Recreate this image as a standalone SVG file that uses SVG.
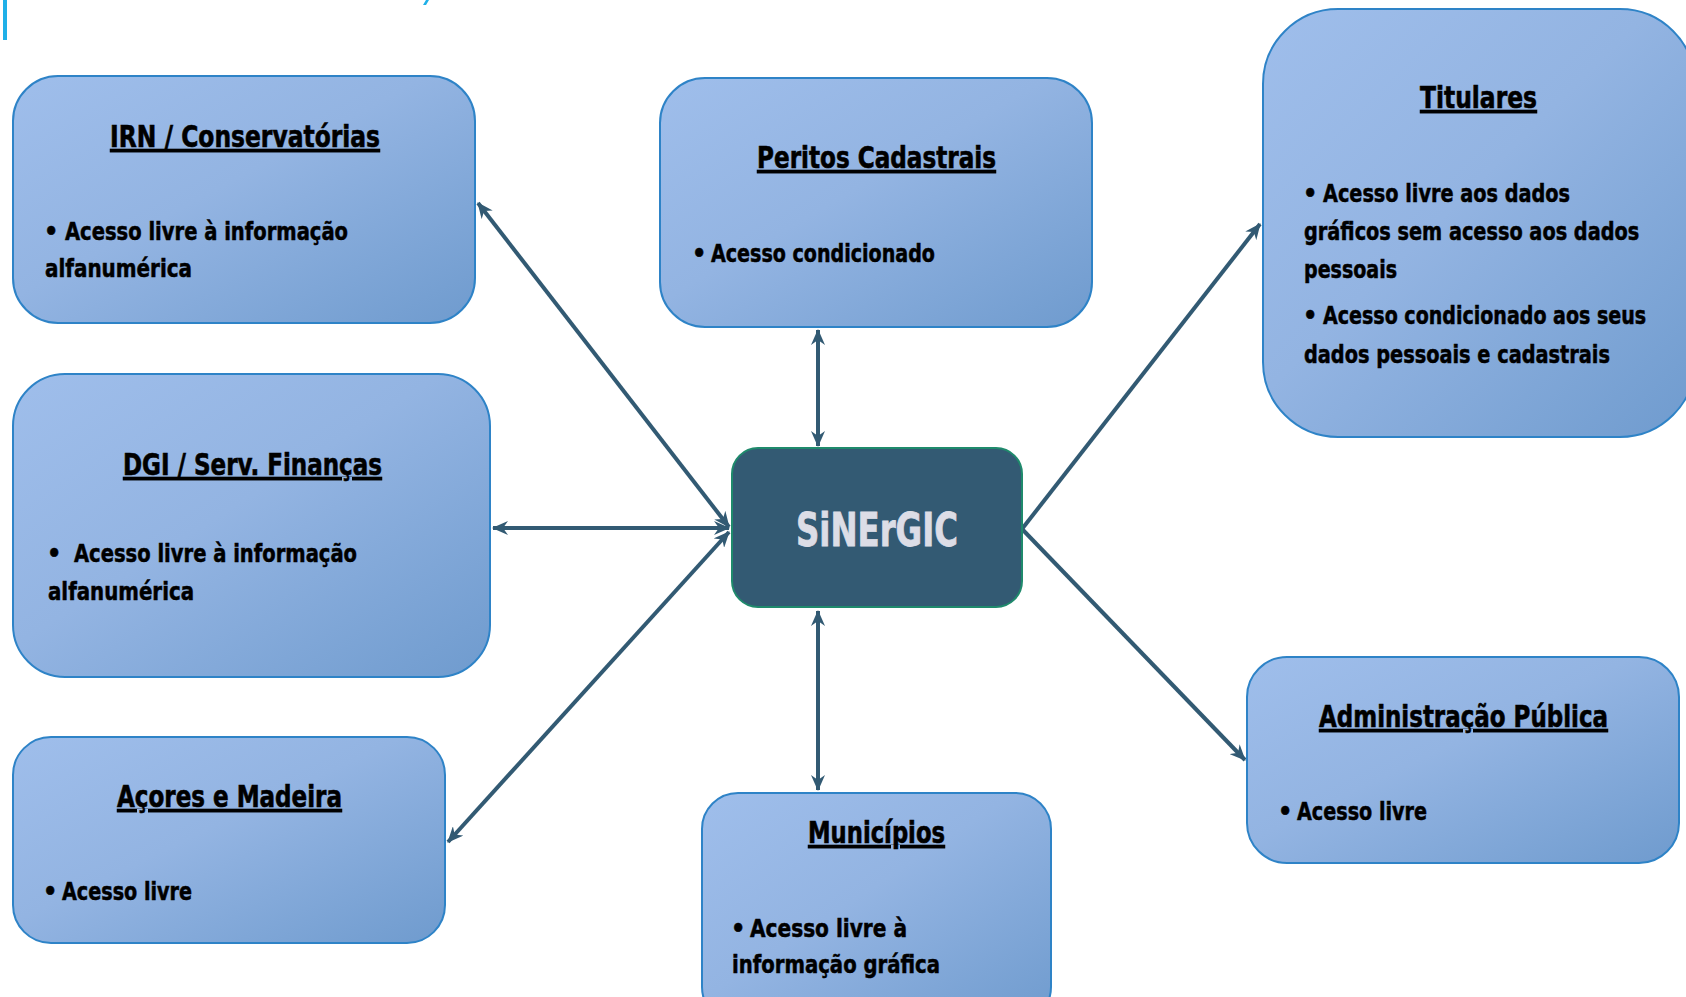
<svg xmlns="http://www.w3.org/2000/svg" width="1686" height="997" viewBox="0 0 1686 997">
<defs>
<linearGradient id="boxg" x1="0" y1="0" x2="1" y2="1">
<stop offset="0" stop-color="#9fbeeb"/>
<stop offset="0.45" stop-color="#93b4e2"/>
<stop offset="1" stop-color="#6f9bce"/>
</linearGradient>
<marker id="ah" viewBox="0 0 16 14" markerWidth="16" markerHeight="14" refX="15" refY="7" orient="auto-start-reverse" markerUnits="userSpaceOnUse">
<path d="M0,0 L16,7 L0,14 L5,7 z" fill="#325a73"/>
</marker>
<style>
.box{fill:url(#boxg);stroke:#2e83c7;stroke-width:2}
.title{font-family:"Liberation Sans Narrow","DejaVu Sans Condensed","Liberation Sans",sans-serif;font-weight:bold;font-size:31px;fill:#000;stroke:#000;stroke-width:0.6;text-decoration:underline}
.txt{font-family:"Liberation Sans Narrow","DejaVu Sans Condensed","Liberation Sans",sans-serif;font-weight:bold;font-size:25px;fill:#000;stroke:#000;stroke-width:0.5}
.conn{stroke:#325a73;stroke-width:4;fill:none}
</style>
</defs>
<rect x="3" y="0" width="4" height="40" fill="#1fb0e8"/>
<polygon points="423,5 426,0 429,0 426,5" fill="#1fb0e8"/>
<g id="connectors">
<line class="conn" x1="478" y1="203" x2="729" y2="527" marker-start="url(#ah)" marker-end="url(#ah)"/>
<line class="conn" x1="493" y1="528" x2="729" y2="528" marker-start="url(#ah)" marker-end="url(#ah)"/>
<line class="conn" x1="448" y1="842" x2="729" y2="532" marker-start="url(#ah)" marker-end="url(#ah)"/>
<line class="conn" x1="818" y1="330" x2="818" y2="446" marker-start="url(#ah)" marker-end="url(#ah)"/>
<line class="conn" x1="818" y1="611" x2="818" y2="790" marker-start="url(#ah)" marker-end="url(#ah)"/>
<line class="conn" x1="1022" y1="529" x2="1260" y2="224" marker-end="url(#ah)"/>
<line class="conn" x1="1022" y1="529" x2="1245" y2="760" marker-end="url(#ah)"/>
</g>
<g id="irn">
<rect class="box" x="13" y="76" width="462" height="247" rx="45"/>
<text class="title" x="110" y="147" textLength="270" lengthAdjust="spacingAndGlyphs">IRN / Conservatórias</text>
<text class="txt" x="44" y="240">•</text>
<text class="txt" x="65" y="240" textLength="283" lengthAdjust="spacingAndGlyphs">Acesso livre à informação</text>
<text class="txt" x="45" y="277" textLength="147" lengthAdjust="spacingAndGlyphs">alfanumérica</text>
</g>
<g id="peritos">
<rect class="box" x="660" y="78" width="432" height="249" rx="45"/>
<text class="title" x="757" y="168" textLength="239" lengthAdjust="spacingAndGlyphs">Peritos Cadastrais</text>
<text class="txt" x="692" y="262">•</text>
<text class="txt" x="711" y="262" textLength="224" lengthAdjust="spacingAndGlyphs">Acesso condicionado</text>
</g>
<g id="titulares">
<rect class="box" x="1263" y="9" width="432" height="428" rx="75"/>
<text class="title" x="1420" y="108" textLength="117" lengthAdjust="spacingAndGlyphs">Titulares</text>
<text class="txt" x="1303" y="202">•</text>
<text class="txt" x="1323" y="202" textLength="247" lengthAdjust="spacingAndGlyphs">Acesso livre aos dados</text>
<text class="txt" transform="translate(1304 240) scale(0.8 1)" x="0" y="0" textLength="419" lengthAdjust="spacingAndGlyphs">gráficos sem acesso aos dados</text>
<text class="txt" x="1304" y="278" textLength="93" lengthAdjust="spacingAndGlyphs">pessoais</text>
<text class="txt" x="1303" y="324">•</text>
<text class="txt" transform="translate(1323 324) scale(0.8 1)" x="0" y="0" textLength="404" lengthAdjust="spacingAndGlyphs">Acesso condicionado aos seus</text>
<text class="txt" x="1304" y="363" textLength="306" lengthAdjust="spacingAndGlyphs">dados pessoais e cadastrais</text>
</g>
<g id="sinergic">
<rect x="732" y="448" width="290" height="159" rx="26" fill="#335a73" stroke="#1f8a6c" stroke-width="2"/>
<text x="796" y="546" textLength="162" lengthAdjust="spacingAndGlyphs" style="font-family:'Liberation Sans Narrow','DejaVu Sans Condensed','Liberation Sans',sans-serif;font-weight:bold;font-size:46px;fill:#dcdde6;stroke:#dcdde6;stroke-width:0.8">SiNErGIC</text>
</g>
<g id="dgi">
<rect class="box" x="13" y="374" width="477" height="303" rx="52"/>
<text class="title" x="123" y="475" textLength="259" lengthAdjust="spacingAndGlyphs">DGI / Serv. Finanças</text>
<text class="txt" x="47" y="562">•</text>
<text class="txt" x="74" y="562" textLength="283" lengthAdjust="spacingAndGlyphs">Acesso livre à informação</text>
<text class="txt" x="48" y="600" textLength="146" lengthAdjust="spacingAndGlyphs">alfanumérica</text>
</g>
<g id="acores">
<rect class="box" x="13" y="737" width="432" height="206" rx="38"/>
<text class="title" x="117" y="807" textLength="225" lengthAdjust="spacingAndGlyphs">Açores e Madeira</text>
<text class="txt" x="43" y="900">•</text>
<text class="txt" x="62" y="900" textLength="130" lengthAdjust="spacingAndGlyphs">Acesso livre</text>
</g>
<g id="municipios">
<rect class="box" x="702" y="793" width="349" height="230" rx="36"/>
<text class="title" x="808" y="843" textLength="137" lengthAdjust="spacingAndGlyphs">Municípios</text>
<text class="txt" x="731" y="937">•</text>
<text class="txt" x="750" y="937" textLength="157" lengthAdjust="spacingAndGlyphs">Acesso livre  à</text>
<text class="txt" x="732" y="973" textLength="208" lengthAdjust="spacingAndGlyphs">informação gráfica</text>
</g>
<g id="admin">
<rect class="box" x="1247" y="657" width="432" height="206" rx="40"/>
<text class="title" x="1319" y="727" textLength="289" lengthAdjust="spacingAndGlyphs">Administração Pública</text>
<text class="txt" x="1278" y="820">•</text>
<text class="txt" x="1297" y="820" textLength="130" lengthAdjust="spacingAndGlyphs">Acesso livre</text>
</g>
</svg>
